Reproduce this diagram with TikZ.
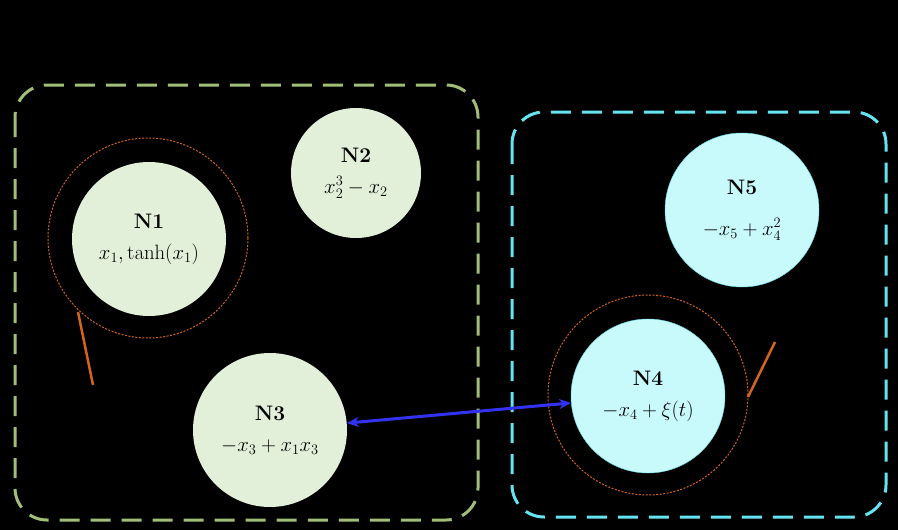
\documentclass[tikz,border=0pt]{standalone}
\usepackage{amsmath}
\usetikzlibrary{arrows.meta,positioning}
\definecolor{leaf}{RGB}{226,239,217}
\definecolor{leafline}{RGB}{160,190,120}
\definecolor{aqua}{RGB}{200,250,252}
\definecolor{aqualine}{RGB}{100,228,240}
\definecolor{rust}{RGB}{210,100,30}
\definecolor{link}{RGB}{50,50,240}
\tikzset{
		>={Stealth[length=12pt,width=10pt]},
		group/.style={dash pattern=on 20pt off 11pt, line width=3pt, rounded corners=32pt},
		neuron/.style={circle, minimum size=154pt, inner sep=0pt, align=center, font=\fontsize{21}{25}\selectfont},
		halo/.style={circle, draw=rust, dash pattern=on 2pt off 1.5pt, line width=1pt, minimum size=200pt, inner sep=0pt}
	}

\begin{document}
\begin{tikzpicture}[x=1pt,y=-1pt]
          \fill[black] (0,0) rectangle (898,530);
          \useasboundingbox (0,0) rectangle (898,530);

          \draw[group, leafline] (15,85) rectangle (478,520);
          \draw[group, aqualine] (512,112) rectangle (886,517);

          \node[halo] (h1) at (148,238) {};
          \node[halo] (h4) at (648,395) {};

          \node[neuron, fill=leaf] (n1) at (149,239) {\textbf{N1}\\[6pt]$x_1,\tanh(x_1)$};
          \node[neuron, fill=leaf, minimum size=130pt] (n2) at (356,173) {\textbf{N2}\\[6pt]$x_2^3-x_2$};
          \node[neuron, fill=leaf] (n3) at (270,430) {\textbf{N3}\\[6pt]$-x_3+x_1x_3$};
          \node[neuron, fill=aqua, draw=aqualine] (n4) at (648,396) {\textbf{N4}\\[6pt]$-x_4+\xi(t)$};
          \node[neuron, fill=aqua, draw=aqualine] (n5) at (742,210) {\textbf{N5}\\[16pt]$-x_5+x_4^2$};

          \coordinate (p1) at (93,385);
          \coordinate (p4) at (775,342);
          \draw[rust, line width=2.5pt] (p1) -- (78,312);
          \draw[rust, line width=2.5pt] (p4) -- (748,397);

          \draw[<->, link, line width=3pt] (n3) -- (n4);
\end{tikzpicture}
\end{document}
